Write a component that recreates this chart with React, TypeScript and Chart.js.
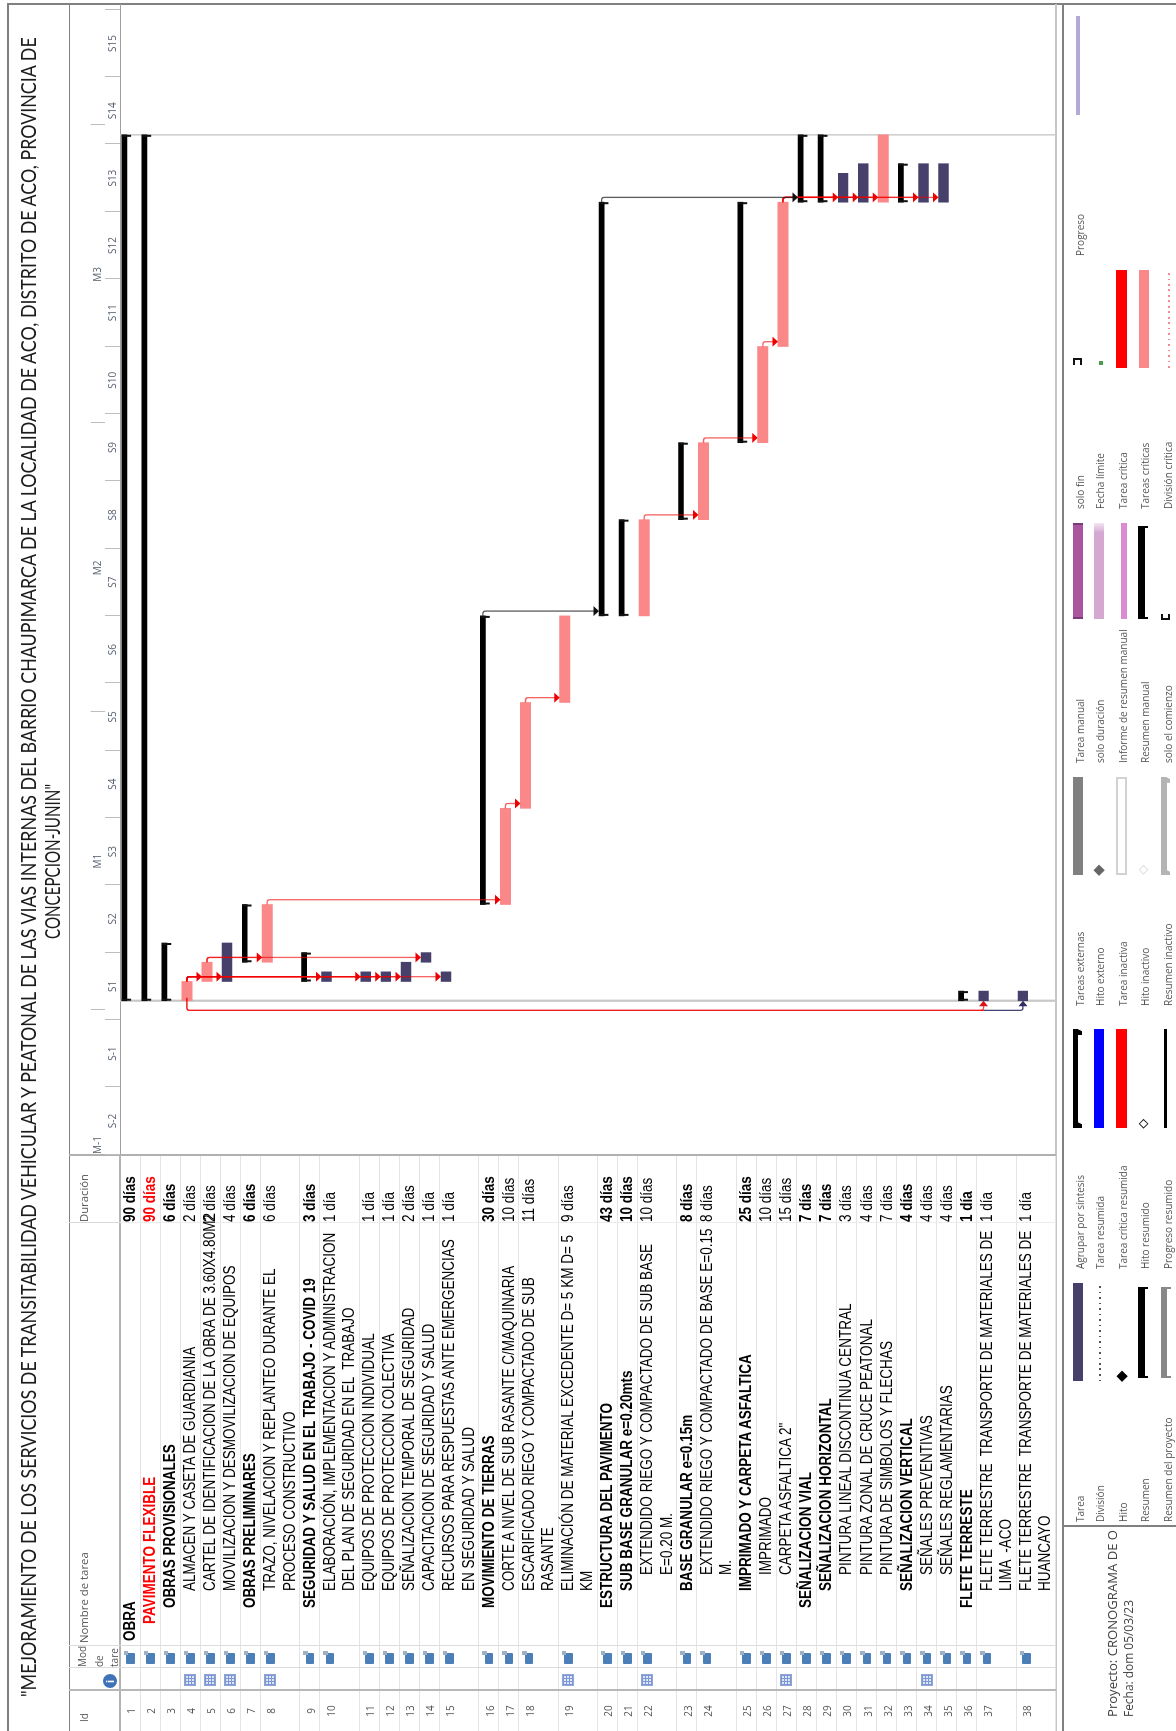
import React, { useEffect, useRef } from "react";
import { Chart, registerables } from "chart.js";

Chart.register(...registerables);

// ---------- data ----------
const titleLines = [
  '"MEJORAMIENTO DE LOS SERVICIOS DE TRANSITABILIDAD VEHICULAR Y PEATONAL DE LAS VIAS INTERNAS DEL BARRIO CHAUPIMARCA DE LA LOCALIDAD DE ACO, DISTRITO DE ACO, PROVINCIA DE',
  'CONCEPCION-JUNIN"',
];
const taskNames: string[][] = [
  ["OBRA"],
  ["PAVIMENTO FLEXIBLE"],
  ["OBRAS PROVISIONALES"],
  ["ALMACEN Y CASETA DE GUARDIANIA"],
  ["CARTEL DE IDENTIFICACION DE LA OBRA DE 3.60X4.80M2"],
  ["MOVILIZACION Y DESMOVILIZACION DE EQUIPOS"],
  ["OBRAS PRELIMINARES"],
  ["TRAZO, NIVELACION Y REPLANTEO DURANTE EL", "PROCESO CONSTRUCTIVO"],
  ["SEGURIDAD Y SALUD EN EL TRABAJO - COVID 19"],
  ["ELABORACIÓN, IMPLEMENTACION Y ADMINISTRACION", "DEL PLAN DE SEGURIDAD EN EL  TRABAJO"],
  ["EQUIPOS DE PROTECCION INDIVIDUAL"],
  ["EQUIPOS DE PROTECCION COLECTIVA"],
  ["SEÑALIZACION TEMPORAL DE SEGURIDAD"],
  ["CAPACITACION DE SEGURIDAD Y SALUD"],
  ["RECURSOS PARA RESPUESTAS ANTE EMERGENCIAS", "EN SEGURIDAD Y SALUD"],
  ["MOVIMIENTO DE TIERRAS"],
  ["CORTE A NIVEL DE SUB RASANTE C/MAQUINARIA"],
  ["ESCARIFICADO RIEGO Y COMPACTADO DE SUB", "RASANTE"],
  ["ELIMINACIÓN DE MATERIAL EXCEDENTE D= 5 KM D= 5", "KM"],
  ["ESTRUCTURA DEL PAVIMENTO"],
  ["SUB BASE GRANULAR e=0.20mts"],
  ["EXTENDIDO RIEGO Y COMPACTADO DE SUB BASE", "E=0.20 M."],
  ["BASE GRANULAR e=0.15m"],
  ["EXTENDIDO RIEGO Y COMPACTADO DE BASE E=0.15", "M."],
  ["IMPRIMADO Y CARPETA ASFALTICA"],
  ["IMPRIMADO"],
  ['CARPETA ASFALTICA 2"'],
  ["SEÑALIZACION VIAL"],
  ["SEÑALIZACION HORIZONTAL"],
  ["PINTURA LINEAL DISCONTINUA CENTRAL"],
  ["PINTURA ZONAL DE CRUCE PEATONAL"],
  ["PINTURA DE SIMBOLOS Y FLECHAS"],
  ["SEÑALIZACION VERTICAL"],
  ["SEÑALES PREVENTIVAS"],
  ["SEÑALES REGLAMENTARIAS"],
  ["FLETE TERRESTE"],
  ["FLETE TERRESTRE  TRANSPORTE DE MATERIALES DE", "LIMA  -ACO"],
  ["FLETE TERRESTRE  TRANSPORTE DE MATERIALES DE", "HUANCAYO"],
];
const outlineLevels = [0, 1, 2, 3, 3, 3, 2, 3, 2, 3, 3, 3, 3, 3, 3, 2, 3, 3, 3, 2, 3, 4, 3, 4, 3, 4, 4, 2, 3, 4, 4, 4, 3, 4, 4, 2, 3, 3];
const startDays = [0, 0, 0, 0, 2, 2, 4, 4, 2, 2, 2, 2, 2, 4, 2, 10, 10, 20, 31, 40, 40, 40, 50, 50, 58, 58, 68, 83, 83, 83, 83, 83, 83, 83, 83, 0, 0, 0];
const durations = [90, 90, 6, 2, 2, 4, 6, 6, 3, 1, 1, 1, 2, 1, 1, 30, 10, 11, 9, 43, 10, 10, 8, 8, 25, 10, 15, 7, 7, 3, 4, 7, 4, 4, 4, 1, 1, 1];
const summaryRows = [1, 2, 3, 7, 9, 16, 20, 21, 23, 25, 28, 29, 33, 36];
const criticalRows = [4, 5, 8, 17, 18, 19, 22, 24, 26, 27, 32];
const normalRows = [6, 10, 11, 12, 13, 14, 15, 30, 31, 34, 35, 37, 38];
const calendarRows = [4, 5, 6, 8, 19, 22, 27, 34];
const redLinks = [[4, 5], [4, 6], [4, 10], [4, 11], [4, 12], [4, 13], [4, 15], [5, 8], [5, 14], [8, 17], [17, 18], [18, 19], [22, 24], [24, 26], [26, 27], [27, 30], [27, 31], [27, 32], [27, 34], [27, 35]];
const blackLinks = [[16, 20], [20, 28]];
const startLinkRows = [38, 37];
const startLinkSource = 4;
const weekLabels = ["S-2", "S-1", "S1", "S2", "S3", "S4", "S5", "S6", "S7", "S8", "S9", "S10", "S11", "S12", "S13", "S14", "S15"];
const weekBoundaries = [-16, -9, -2, 5, 12, 19, 26, 33, 40, 47, 54, 61, 68, 75, 82, 89, 96, 103];
const monthLabels = ["M-1", "M1", "M2", "M3"];
const monthLabelDays = [-15, 14.5, 45, 75.5];
const monthBoundaries = [-1, 30, 60, 91];
const projectDays = [0, 90];
const axisMinDay = -16;
const axisMaxDay = 103.6;
const legendColumns: { start: number; labels: string[] }[] = [
  { start: 1522, labels: ["Tarea", "División", "Hito", "Resumen", "Resumen del proyecto"] },
  { start: 1269, labels: ["Agrupar por síntesis", "Tarea resumida", "Tarea crítica resumida", "Hito resumido", "Progreso resumido"] },
  { start: 1005.7, labels: ["Tareas externas", "Hito externo", "Tarea inactiva", "Hito inactivo", "Resumen inactivo"] },
  { start: 762.6, labels: ["Tarea manual", "solo duración", "Informe de resumen manual", "Resumen manual", "solo el comienzo"] },
  { start: 509, labels: ["solo fin", "Fecha límite", "Tarea crítica", "Tareas críticas", "División crítica"] },
  { start: 256, labels: ["Progreso"] },
];
const projectInfo = ["Proyecto: CRONOGRAMA DE O", "Fecha: dom 05/03/23"];

// ---------- layout constants (page pixels) ----------
const PAGE_H = 1731;
const LINE_UNIT = 19.2;
const ROW_PAD = 0.87;
const TABLE_LEFT = 120;
const TABLE_RIGHT = 1055.5;
const SPLIT_Y = 1155;
const BAR_OFFSET = 6.7;
const SUMMARY_OFFSET = 4.3;
const TIP_OFFSET = 1.7;
const TABLE_SX = 0.845;
const SMALL_SX = 0.91;

const rowStarts: number[] = [];
{
  let acc = 0;
  taskNames.forEach((lines) => {
    rowStarts.push(acc);
    acc += lines.length * LINE_UNIT + ROW_PAD;
  });
  rowStarts.push(acc);
}
const rowStart = (row: number) => rowStarts[row - 1];
const isSummary = (row: number) => summaryRows.includes(row);
const rowBarCenter = (row: number) => rowStart(row) + (isSummary(row) ? SUMMARY_OFFSET : BAR_OFFSET);
const endDay = (row: number) => startDays[row - 1] + durations[row - 1];
const barsFor = (rows: number[], offset: number) =>
  rows.map((row) => ({ x: [startDays[row - 1], endDay(row)], y: rowStart(row) + offset }));

const arrow = (ctx: CanvasRenderingContext2D, x: number, y: number, dir: "down" | "right", color: string) => {
  ctx.fillStyle = color;
  ctx.beginPath();
  if (dir === "down") {
    ctx.moveTo(x, y);
    ctx.lineTo(x - 5, y - 5.5);
    ctx.lineTo(x + 5, y - 5.5);
  } else {
    ctx.moveTo(x, y);
    ctx.lineTo(x - 5.5, y - 4.5);
    ctx.lineTo(x - 5.5, y + 4.5);
  }
  ctx.closePath();
  ctx.fill();
};

const ganttPlugin = {
  id: "gantt",
  beforeDatasetsDraw(chart: any) {
    const { ctx, chartArea, scales } = chart;
    ctx.save();
    ctx.strokeStyle = "#c8c8c8";
    projectDays.forEach((d, i) => {
      const px = scales.x.getPixelForValue(d);
      ctx.lineWidth = i === 0 ? 2.2 : 1.4;
      ctx.beginPath();
      ctx.moveTo(px, chartArea.top);
      ctx.lineTo(px, chartArea.bottom);
      ctx.stroke();
    });
    // tick marks of the two time tiers
    ctx.strokeStyle = "#bdbdbd";
    ctx.lineWidth = 1;
    weekBoundaries.forEach((d) => {
      const px = Math.round(scales.x.getPixelForValue(d)) + 0.5;
      ctx.beginPath();
      ctx.moveTo(px, chartArea.top - 15);
      ctx.lineTo(px, chartArea.top);
      ctx.stroke();
    });
    monthBoundaries.forEach((d) => {
      const px = Math.round(scales.x.getPixelForValue(d)) + 0.5;
      ctx.beginPath();
      ctx.moveTo(px, chartArea.top - 29.3);
      ctx.lineTo(px, chartArea.top - 15);
      ctx.stroke();
    });
    ctx.restore();
  },
  afterDatasetsDraw(chart: any) {
    const { ctx, scales } = chart;
    const X = (d: number) => scales.x.getPixelForValue(d);
    const Y = (v: number) => scales.y.getPixelForValue(v);
    ctx.save();
    // summary end tabs
    ctx.fillStyle = "#111";
    summaryRows.forEach((row) => {
      const top = Y(rowStart(row) + 1.8);
      [startDays[row - 1], endDay(row)].forEach((d, i) => {
        ctx.fillRect(i === 0 ? X(d) : X(d) - 2, top, 2, 9.3);
      });
    });
    // finish-to-start links
    const drawLink = (from: number, to: number, color: string, head: string) => {
      const e = endDay(from);
      const sx = X(e);
      const mx = X(e + 0.5);
      const y0 = Y(rowBarCenter(from));
      const tip = Y(rowStart(to) + TIP_OFFSET);
      ctx.strokeStyle = color;
      ctx.lineWidth = 1.3;
      ctx.beginPath();
      ctx.moveTo(sx, y0);
      ctx.arcTo(mx, y0, mx, y0 + 3, 2.5);
      ctx.lineTo(mx, tip - 5);
      ctx.stroke();
      arrow(ctx, mx, tip, "down", head);
    };
    redLinks.forEach(([a, b]) => drawLink(a, b, "rgba(240,0,0,0.62)", "#ee0000"));
    blackLinks.forEach(([a, b]) => drawLink(a, b, "rgba(30,30,30,0.72)", "#111"));
    // start-to-start links running behind the project start
    startLinkRows.forEach((row) => {
      const color = row === 38 ? "#3d3a6b" : "rgba(240,0,0,0.7)";
      const x0 = X(startDays[startLinkSource - 1] + 0.3);
      const xb = X(-1);
      const y0 = Y(rowBarCenter(startLinkSource));
      const y1 = Y(rowBarCenter(row));
      const tipX = X(0);
      ctx.strokeStyle = row === 38 ? "rgba(240,0,0,0.7)" : color;
      ctx.lineWidth = 1.2;
      ctx.beginPath();
      ctx.moveTo(x0, y0);
      ctx.arcTo(xb, y0, xb, y0 + 3, 2.5);
      ctx.lineTo(xb, row === 38 ? Y(rowBarCenter(37)) : y1);
      ctx.stroke();
      if (row === 38) {
        ctx.strokeStyle = color;
        ctx.beginPath();
        ctx.moveTo(xb, Y(rowBarCenter(37)));
        ctx.lineTo(xb, y1 - 3);
        ctx.arcTo(xb, y1, xb + 3, y1, 2.5);
        ctx.lineTo(tipX - 5, y1);
        ctx.stroke();
        arrow(ctx, tipX, y1, "right", "#2f2c60");
      } else {
        ctx.beginPath();
        ctx.moveTo(xb, y1 - 3);
        ctx.arcTo(xb, y1, xb + 3, y1, 2.5);
        ctx.lineTo(tipX - 5, y1);
        ctx.stroke();
        arrow(ctx, tipX, y1, "right", "#d8141c");
      }
    });
    ctx.restore();
  },
};

// ---------- DOM helpers: everything below works in page coordinates ----------
const measureCtx = typeof document !== "undefined" ? document.createElement("canvas").getContext("2d") : null;
const fitScale = (text: string, font: string, target: number) => {
  if (!measureCtx) return 1;
  measureCtx.font = font;
  return target / measureCtx.measureText(text).width;
};

type TxtProps = { py: number; px: number; text: string; size: number; family: string; bold?: boolean; color?: string; sx?: number; center?: boolean };
const Txt = ({ py, px, text, size, family, bold, color = "#000", sx = 1, center }: TxtProps) => (
  <span
    style={{
      position: "absolute",
      left: PAGE_H - py,
      top: px,
      whiteSpace: "pre",
      lineHeight: 1,
      fontFamily: family,
      fontSize: size,
      fontWeight: bold ? 700 : 400,
      color,
      transformOrigin: center ? "50% 50%" : "0 50%",
      transform: `translate(${center ? "-50%" : "0"},-50%) scaleX(${sx})`,
    }}
  >
    {text}
  </span>
);

const Box = ({ x1, x2, y1, y2, style }: { x1: number; x2: number; y1: number; y2: number; style?: React.CSSProperties }) => (
  <div style={{ position: "absolute", left: PAGE_H - y2, top: x1, width: y2 - y1, height: x2 - x1, boxSizing: "border-box", ...style }} />
);
const Diamond = ({ px, py, size, style }: { px: number; py: number; size: number; style: React.CSSProperties }) => (
  <div style={{ position: "absolute", left: PAGE_H - py - size / 2, top: px - size / 2, width: size, height: size, boxSizing: "border-box", transform: "rotate(45deg)", ...style }} />
);
const Bracket = ({ x, y1, y2, color }: { x: number; y1: number; y2: number; color: string }) => (
  <>
    <Box x1={x} x2={x + 6.5} y1={y1} y2={y2} style={{ background: color }} />
    <Box x1={x} x2={x + 10} y1={y1} y2={y1 + 2} style={{ background: color }} />
    <Box x1={x} x2={x + 10} y1={y2 - 2} y2={y2} style={{ background: color }} />
  </>
);
const CappedBar = ({ x, y1, y2, bar, color }: { x: number; y1: number; y2: number; bar: number; color: string }) => (
  <>
    <Box x1={x} x2={x + bar} y1={y1} y2={y2} style={{ background: color }} />
    <Box x1={x} x2={x + 9.5} y1={y1} y2={y1 + 6} style={{ background: color, clipPath: "polygon(0 0,60% 0,100% 50%,60% 100%,0 100%)" }} />
    <Box x1={x} x2={x + 9.5} y1={y2 - 6} y2={y2} style={{ background: color, clipPath: "polygon(0 0,60% 0,100% 50%,60% 100%,0 100%)" }} />
  </>
);

const COL_X = [1079, 1099.3, 1121.7, 1144.3, 1166.7];
const SANS = '"Liberation Sans", Arial, sans-serif';
const UI = '"Open Sans", sans-serif';
const TITLE_FONT = "Lato, sans-serif";

const GRID = "#e4e4e4";
const FRAME = "#808080";

export default function App() {
  const ref = useRef<HTMLCanvasElement | null>(null);
  useEffect(() => {
    const chart = new Chart(ref.current as HTMLCanvasElement, {
      type: "bar",
      data: {
        datasets: [
          { label: "Resumen", data: barsFor(summaryRows, SUMMARY_OFFSET), backgroundColor: "#000", maxBarThickness: 5, order: 1 },
          { label: "Tareas críticas", data: barsFor(criticalRows, BAR_OFFSET), backgroundColor: "#fa8888", maxBarThickness: 10.3, order: 2 },
          { label: "Tarea", data: barsFor(normalRows, BAR_OFFSET), backgroundColor: "#47406a", maxBarThickness: 9.8, order: 3 },
        ] as any,
      },
      options: {
        indexAxis: "y",
        animation: false,
        responsive: false,
        maintainAspectRatio: false,
        devicePixelRatio: 1,
        grouped: false,
        barPercentage: 1,
        categoryPercentage: 1,
        layout: { padding: { top: 21, left: 0, right: 0, bottom: 0.5 } },
        plugins: { legend: { display: false }, tooltip: { enabled: false }, title: { display: false } },
        scales: {
          x: {
            type: "linear",
            position: "top",
            min: axisMinDay,
            max: axisMaxDay,
            weight: 1,
            bounds: "data",
            grid: { display: false, drawTicks: false },
            border: { display: false },
            afterBuildTicks: (axis: any) => {
              axis.ticks = weekLabels.map((_, i) => ({ value: (weekBoundaries[i] + weekBoundaries[i + 1]) / 2 }));
            },
            afterFit: (axis: any) => {
              axis.height = 15;
            },
            ticks: {
              autoSkip: false,
              maxRotation: 0,
              padding: 1,
              color: "#56606f",
              font: { family: "Open Sans", size: 10 },
              callback: (_v: any, i: number) => weekLabels[i],
            },
          },
          m: {
            type: "linear",
            position: "top",
            axis: "x",
            min: axisMinDay,
            max: axisMaxDay,
            weight: 2,
            bounds: "data",
            grid: { display: false, drawTicks: false },
            border: { display: false },
            afterBuildTicks: (axis: any) => {
              axis.ticks = monthLabelDays.map((value) => ({ value }));
            },
            afterFit: (axis: any) => {
              axis.height = 15;
            },
            ticks: {
              autoSkip: false,
              maxRotation: 0,
              padding: 1,
              color: "#56606f",
              font: { family: "Open Sans", size: 10 },
              callback: (_v: any, i: number) => monthLabels[i],
            },
          },
          y: {
            type: "linear",
            display: false,
            reverse: true,
            offset: false,
            min: 0,
            max: TABLE_RIGHT - TABLE_LEFT,
            bounds: "data",
            grid: { offset: false },
            ticks: { stepSize: 300 },
          },
        },
      } as any,
      plugins: [ganttPlugin as any],
    });
    return () => chart.destroy();
  }, []);

  const titleFont = `400 21px ${TITLE_FONT}`;
  const proj = `400 13px ${UI}`;
  const headFont = `400 11px ${UI}`;

  return (
    <div style={{ position: "absolute", left: 0, top: 0, width: 1176, height: PAGE_H, overflow: "hidden", background: "#fff" }}>
      <div
        style={{
          position: "absolute",
          left: 0,
          top: 0,
          width: PAGE_H,
          height: 1176,
          transformOrigin: "0 0",
          transform: `translateY(${PAGE_H}px) rotate(-90deg)`,
          filter: "blur(0.35px)",
        }}
      >
        {/* frame lines */}
        <Box x1={6.5} x2={8.5} y1={3} y2={PAGE_H} style={{ background: FRAME }} />
        <Box x1={7} x2={1176} y1={3} y2={5} style={{ background: FRAME }} />
        <Box x1={68.5} x2={70} y1={4} y2={PAGE_H} style={{ background: FRAME }} />
        <Box x1={1062.2} x2={1063.7} y1={4} y2={PAGE_H} style={{ background: FRAME }} />
        <Box x1={1054.5} x2={1056.5} y1={4} y2={PAGE_H} style={{ background: "#c6c6c6" }} />
        <Box x1={1063} x2={1176} y1={1525.3} y2={1526.7} style={{ background: FRAME }} />

        {/* table grid */}
        {rowStarts.slice(1).map((r, i) => (
          <Box key={i} x1={TABLE_LEFT + r - 0.5} x2={TABLE_LEFT + r + 0.5} y1={SPLIT_Y} y2={PAGE_H} style={{ background: GRID }} />
        ))}
        <Box x1={119} x2={121} y1={SPLIT_Y} y2={PAGE_H} style={{ background: "#b4b4b4" }} />
        <Box x1={119.5} x2={120.5} y1={4} y2={SPLIT_Y} style={{ background: "#a0a0a0" }} />
        <Box x1={69} x2={TABLE_RIGHT} y1={1154} y2={1156} style={{ background: "#b0b0b0" }} />
        <Box x1={69} x2={120} y1={1222.5} y2={1223.5} style={{ background: "#d8d8d8" }} />
        <Box x1={120} x2={TABLE_RIGHT} y1={1222.5} y2={1223.5} style={{ background: "#ececec" }} />
        <Box x1={69} x2={TABLE_RIGHT} y1={1645} y2={1646} style={{ background: "#dcdcdc" }} />
        <Box x1={69} x2={TABLE_RIGHT} y1={1667.5} y2={1668.5} style={{ background: "#dcdcdc" }} />
        <Box x1={69} x2={TABLE_RIGHT} y1={1689.5} y2={1691.5} style={{ background: "#b8b8b8" }} />

        {/* title */}
        <Txt py={1697} px={27} text={titleLines[0]} size={21} family={TITLE_FONT} color="#1c1c1c" sx={fitScale(titleLines[0], titleFont, 1667)} />
        <Txt py={938.7} px={51} text={titleLines[1]} size={21} family={TITLE_FONT} color="#1c1c1c" sx={fitScale(titleLines[1], titleFont, 155)} />

        {/* table header */}
        <Txt py={1722} px={83} text="Id" size={11} family={UI} color="#555" sx={SMALL_SX} />
        <Txt py={1667} px={81} text="Mod" size={11} family={UI} color="#555" sx={SMALL_SX} />
        <Txt py={1667} px={98} text="de" size={11} family={UI} color="#555" sx={SMALL_SX} />
        <Txt py={1667} px={113} text="tare" size={11} family={UI} color="#555" sx={SMALL_SX} />
        <Txt py={1643} px={83} text="Nombre de tarea" size={11} family={UI} color="#555" sx={fitScale("Nombre de tarea", headFont, 90.7)} />
        <Txt py={1222} px={83} text="Duración" size={11} family={UI} color="#555" sx={fitScale("Duración", headFont, 48)} />
        <div style={{ position: "absolute", left: PAGE_H - 1681.5 - 7, top: 103, width: 14, height: 14, borderRadius: 7, background: "#3f73b8", color: "#fff", font: `700 11px/14px ${SANS}`, textAlign: "center" }}>i</div>

        {/* table rows */}
        {taskNames.map((lines, i) => {
          const top = TABLE_LEFT + rowStarts[i];
          const row = i + 1;
          const bold = isSummary(row);
          const red = row === 2;
          const color = red ? "#ff0000" : "#000";
          const days = durations[i];
          return (
            <React.Fragment key={i}>
              <Txt py={1711} px={top + 10} text={String(row)} size={11} family={UI} color="#555" sx={0.9} center />
              {/* mode icon */}
              <Box x1={top + 6} x2={top + 14.5} y1={1653} y2={1664} style={{ background: "#4c7fb8", borderRadius: 1 }} />
              <Box x1={top + 3.5} x2={top + 8} y1={1651} y2={1655.5} style={{ background: "#9db0c4" }} />
              {calendarRows.includes(row) && (
                <Box
                  x1={top + 4}
                  x2={top + 16}
                  y1={1674}
                  y2={1686}
                  style={{
                    border: "1px solid #8fa5d8",
                    backgroundColor: "#dde5f6",
                    backgroundImage:
                      "repeating-linear-gradient(0deg,#7d97d3 0 1px,transparent 1px 3px),repeating-linear-gradient(90deg,#7d97d3 0 1px,transparent 1px 3px)",
                  }}
                />
              )}
              {lines.map((line, j) => (
                <Txt
                  key={j}
                  py={1640.7 - outlineLevels[i] * 16.4}
                  px={top + 10 + j * 19.3}
                  text={line}
                  size={16}
                  family={SANS}
                  bold={bold}
                  color={color}
                  sx={TABLE_SX}
                />
              ))}
              <Txt py={1222} px={top + 10} text={days === 1 ? "1 día" : `${days} días`} size={16} family={SANS} bold={bold} color={color} sx={TABLE_SX} />
            </React.Fragment>
          );
        })}

        {/* chart: canvas spans the time header and the plot */}
        <canvas ref={ref} width={1151} height={987} style={{ position: "absolute", left: PAGE_H - SPLIT_Y, top: 69, width: 1151, height: 987 }} />

        {/* legend */}
        {legendColumns.map((col, c) =>
          col.labels.map((label, i) => (
            <Txt key={`${c}-${i}`} py={col.start} px={COL_X[i]} text={label} size={11} family={UI} color="#555" sx={SMALL_SX} />
          ))
        )}
        <Box x1={1072.7} x2={1082.7} y1={1283} y2={1381.5} style={{ background: "#47406a" }} />
        <Box x1={1098.5} x2={1100.5} y1={1283} y2={1381.5} style={{ backgroundImage: "repeating-linear-gradient(90deg,#555 0 1.5px,transparent 1.5px 5.5px)" }} />
        <Diamond px={1121.7} py={1376.7} size={7.5} style={{ background: "#000" }} />
        <Bracket x={1138} y1={1287} y2={1378} color="#000" />
        <Bracket x={1160.7} y1={1287} y2={1378} color="#888" />

        <CappedBar x={1072.7} y1={1029} y2={1128} bar={5.5} color="#000" />
        <Box x1={1094.3} x2={1104.3} y1={1029} y2={1128} style={{ background: "#0000ff" }} />
        <Box x1={1116} x2={1126.7} y1={1029} y2={1128} style={{ background: "#ff0000" }} />
        <Diamond px={1143.5} py={1123.5} size={6.5} style={{ border: "1.3px solid #222", background: "#fff" }} />
        <Box x1={1163.5} x2={1167} y1={1029} y2={1128} style={{ background: "#000" }} />

        <Box x1={1072.7} x2={1082.7} y1={776.8} y2={875.5} style={{ background: "#808080" }} />
        <Diamond px={1099} py={870} size={7.5} style={{ background: "#666" }} />
        <Box x1={1116} x2={1126.7} y1={776.8} y2={875.5} style={{ border: "2.5px solid #d2d2d2", background: "#fff" }} />
        <Diamond px={1143.5} py={870} size={6.5} style={{ border: "1.3px solid #ddd", background: "#fff" }} />
        <CappedBar x={1160.7} y1={776.8} y2={875.5} bar={6} color="#b4b4b4" />

        <Box x1={1072.7} x2={1082.7} y1={523.5} y2={619} style={{ background: "#a9559f", borderLeft: "2px solid #7b3a78", borderRight: "2px solid #7b3a78" }} />
        <Box x1={1094.3} x2={1104.3} y1={523.5} y2={619} style={{ backgroundImage: "linear-gradient(90deg,#d5a8d2 90%,#f3e6f2)" }} />
        <Box x1={1120.7} x2={1126.7} y1={523.5} y2={619} style={{ background: "#d98ccf" }} />
        <Bracket x={1138} y1={526} y2={619} color="#000" />
        <Box x1={1161} x2={1170} y1={618} y2={620} style={{ background: "#111" }} />
        <Box x1={1161} x2={1163} y1={614.5} y2={620} style={{ background: "#111" }} />
        <Box x1={1168} x2={1170} y1={614.5} y2={620} style={{ background: "#111" }} />

        <Box x1={1073} x2={1082} y1={358.5} y2={360.5} style={{ background: "#111" }} />
        <Box x1={1073} x2={1075} y1={358.5} y2={365} style={{ background: "#111" }} />
        <Box x1={1080} x2={1082} y1={358.5} y2={365} style={{ background: "#111" }} />
        <Box x1={1099} x2={1103} y1={361} y2={365} style={{ background: "#4a9d4a" }} />
        <Box x1={1116} x2={1126.7} y1={270} y2={368} style={{ background: "#ff0000" }} />
        <Box x1={1138.7} x2={1148.7} y1={270} y2={368} style={{ background: "#fa8888" }} />
        <Box x1={1167.5} x2={1169.5} y1={270} y2={368} style={{ backgroundImage: "repeating-linear-gradient(90deg,#fa8888 0 1.5px,transparent 1.5px 5.5px)" }} />
        <Box x1={1076} x2={1079.5} y1={16} y2={115} style={{ background: "#b5a9d6" }} />

        {/* project info */}
        <Txt py={1716.7} px={1111.7} text={projectInfo[0]} size={13} family={UI} color="#444" sx={fitScale(projectInfo[0], proj, 187)} />
        <Txt py={1716.7} px={1128} text={projectInfo[1]} size={13} family={UI} color="#444" sx={fitScale(projectInfo[1], proj, 117)} />
      </div>
    </div>
  );
}
